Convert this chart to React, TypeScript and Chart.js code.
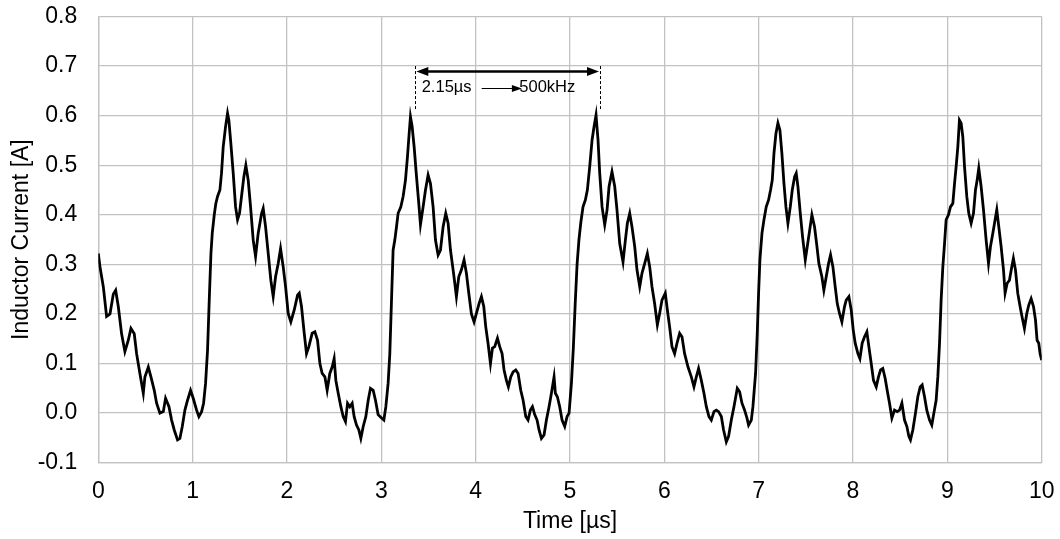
import React, { useEffect, useRef } from "react";
import { Chart, registerables } from "chart.js";

Chart.register(...registerables);

// ---- data ----
const timeUs = [
  0.0, 0.018, 0.053, 0.088, 0.124, 0.159, 0.184, 0.212, 0.247, 0.282, 0.318, 0.346, 0.381, 0.406, 0.441, 0.477,
  0.494, 0.53, 0.558, 0.593, 0.618, 0.653, 0.689, 0.713, 0.749, 0.777, 0.805, 0.84, 0.865, 0.89, 0.918, 0.946,
  0.978, 1.006, 1.042, 1.066, 1.095, 1.116, 1.137, 1.158, 1.176, 1.194, 1.208, 1.229, 1.246, 1.264, 1.289, 1.306,
  1.324, 1.349, 1.37, 1.384, 1.405, 1.43, 1.455, 1.476, 1.497, 1.518, 1.543, 1.564, 1.589, 1.614, 1.642, 1.667,
  1.695, 1.731, 1.748, 1.773, 1.801, 1.829, 1.854, 1.879, 1.907, 1.932, 1.96, 1.985, 2.013, 2.041, 2.077, 2.112,
  2.13, 2.154, 2.183, 2.207, 2.232, 2.267, 2.296, 2.324, 2.349, 2.373, 2.402, 2.426, 2.454, 2.479, 2.5, 2.518,
  2.543, 2.571, 2.596, 2.62, 2.642, 2.666, 2.691, 2.712, 2.737, 2.762, 2.783, 2.808, 2.836, 2.861, 2.885, 2.914,
  2.938, 2.966, 3.002, 3.027, 3.048, 3.072, 3.09, 3.108, 3.125, 3.143, 3.161, 3.178, 3.207, 3.231, 3.256, 3.277,
  3.295, 3.309, 3.327, 3.348, 3.373, 3.397, 3.415, 3.443, 3.468, 3.496, 3.521, 3.549, 3.574, 3.602, 3.627, 3.655,
  3.683, 3.708, 3.733, 3.761, 3.779, 3.796, 3.821, 3.849, 3.877, 3.902, 3.927, 3.955, 3.983, 4.008, 4.036, 4.061,
  4.086, 4.107, 4.132, 4.157, 4.178, 4.202, 4.231, 4.255, 4.28, 4.301, 4.326, 4.347, 4.372, 4.397, 4.425, 4.45,
  4.478, 4.503, 4.531, 4.555, 4.58, 4.602, 4.626, 4.651, 4.672, 4.697, 4.725, 4.75, 4.778, 4.803, 4.831, 4.845,
  4.866, 4.891, 4.916, 4.944, 4.969, 4.99, 5.015, 5.035, 5.055, 5.075, 5.095, 5.115, 5.138, 5.163, 5.184, 5.209,
  5.234, 5.255, 5.276, 5.297, 5.315, 5.34, 5.368, 5.393, 5.414, 5.445, 5.474, 5.498, 5.527, 5.562, 5.587, 5.608,
  5.633, 5.657, 5.686, 5.71, 5.739, 5.763, 5.792, 5.82, 5.845, 5.869, 5.897, 5.926, 5.95, 5.975, 6.01, 6.032,
  6.056, 6.081, 6.109, 6.134, 6.162, 6.187, 6.215, 6.251, 6.286, 6.314, 6.339, 6.363, 6.392, 6.42, 6.445, 6.473,
  6.498, 6.526, 6.551, 6.575, 6.604, 6.628, 6.657, 6.681, 6.71, 6.738, 6.773, 6.798, 6.823, 6.851, 6.876, 6.893,
  6.922, 6.939, 6.95, 6.967, 6.985, 6.999, 7.013, 7.035, 7.056, 7.08, 7.105, 7.126, 7.144, 7.162, 7.183, 7.204,
  7.225, 7.246, 7.268, 7.289, 7.31, 7.335, 7.356, 7.381, 7.398, 7.416, 7.441, 7.465, 7.494, 7.515, 7.536, 7.564,
  7.592, 7.614, 7.638, 7.67, 7.691, 7.716, 7.741, 7.762, 7.787, 7.811, 7.833, 7.857, 7.882, 7.91, 7.928, 7.956,
  7.981, 8.002, 8.023, 8.052, 8.073, 8.097, 8.122, 8.147, 8.168, 8.193, 8.217, 8.246, 8.27, 8.292, 8.316, 8.341,
  8.362, 8.387, 8.412, 8.44, 8.468, 8.493, 8.518, 8.546, 8.571, 8.592, 8.609, 8.634, 8.662, 8.687, 8.712, 8.733,
  8.758, 8.782, 8.811, 8.835, 8.857, 8.881, 8.899, 8.917, 8.934, 8.952, 8.97, 8.987, 9.012, 9.033, 9.058, 9.076,
  9.093, 9.111, 9.128, 9.146, 9.164, 9.182, 9.206, 9.227, 9.252, 9.277, 9.298, 9.316, 9.333, 9.358, 9.383, 9.411,
  9.436, 9.457, 9.482, 9.506, 9.524, 9.545, 9.57, 9.595, 9.612, 9.634, 9.658, 9.683, 9.7, 9.722, 9.746, 9.771,
  9.792, 9.817, 9.842, 9.863, 9.888, 9.913, 9.934, 9.951, 9.969, 9.983, 10.0,
];

const currentA = [
  0.322, 0.295, 0.255, 0.195, 0.2, 0.24, 0.248, 0.215, 0.16, 0.124, 0.147, 0.171, 0.16, 0.12, 0.08, 0.04,
  0.073, 0.093, 0.073, 0.046, 0.02, 0.0, 0.003, 0.03, 0.013, -0.014, -0.034, -0.054, -0.051, -0.027, 0.006, 0.026,
  0.046, 0.03, 0.006, -0.007, 0.003, 0.02, 0.06, 0.127, 0.228, 0.322, 0.363, 0.4, 0.423, 0.437, 0.45, 0.484,
  0.537, 0.578, 0.605, 0.591, 0.544, 0.484, 0.416, 0.39, 0.403, 0.437, 0.477, 0.5, 0.47, 0.416, 0.349, 0.316,
  0.363, 0.403, 0.413, 0.376, 0.322, 0.268, 0.235, 0.275, 0.302, 0.332, 0.295, 0.255, 0.201, 0.184, 0.208, 0.238,
  0.242, 0.215, 0.161, 0.12, 0.134, 0.161, 0.164, 0.147, 0.1, 0.08, 0.073, 0.046, 0.08, 0.093, 0.11, 0.066,
  0.04, 0.013, -0.007, -0.017, 0.02, 0.013, 0.02, -0.007, -0.024, -0.034, -0.051, -0.027, -0.007, 0.026, 0.05, 0.046,
  0.026, -0.003, -0.01, -0.014, 0.013, 0.06, 0.12, 0.228, 0.329, 0.349, 0.376, 0.403, 0.416, 0.437, 0.47, 0.517,
  0.564, 0.598, 0.578, 0.537, 0.477, 0.423, 0.38, 0.416, 0.45, 0.48, 0.463, 0.416, 0.349, 0.319, 0.329, 0.376,
  0.403, 0.383, 0.329, 0.289, 0.262, 0.235, 0.275, 0.289, 0.309, 0.282, 0.242, 0.2, 0.184, 0.201, 0.221, 0.235,
  0.215, 0.174, 0.14, 0.1, 0.131, 0.134, 0.151, 0.134, 0.12, 0.087, 0.066, 0.053, 0.073, 0.083, 0.087, 0.08,
  0.046, 0.026, -0.007, -0.014, 0.006, 0.013, -0.003, -0.014, -0.034, -0.051, -0.044, -0.014, 0.013, 0.04, 0.073, 0.04,
  0.033, 0.013, -0.014, -0.027, -0.007, 0.0, 0.06, 0.13, 0.22, 0.3, 0.35, 0.385, 0.416, 0.43, 0.45, 0.497,
  0.551, 0.578, 0.601, 0.551, 0.484, 0.416, 0.38, 0.41, 0.457, 0.487, 0.457, 0.41, 0.342, 0.305, 0.349, 0.383,
  0.403, 0.376, 0.336, 0.289, 0.255, 0.282, 0.302, 0.322, 0.295, 0.255, 0.221, 0.178, 0.201, 0.228, 0.242, 0.208,
  0.174, 0.134, 0.12, 0.141, 0.161, 0.154, 0.12, 0.093, 0.073, 0.053, 0.073, 0.09, 0.066, 0.04, 0.013, -0.007,
  -0.014, 0.003, 0.006, 0.003, -0.007, -0.034, -0.058, -0.047, -0.014, 0.013, 0.05, 0.043, 0.02, 0.006, -0.01, -0.024,
  -0.014, 0.013, 0.04, 0.08, 0.161, 0.242, 0.309, 0.363, 0.39, 0.416, 0.43, 0.45, 0.47, 0.524, 0.564, 0.585,
  0.571, 0.524, 0.463, 0.416, 0.383, 0.416, 0.45, 0.477, 0.484, 0.457, 0.403, 0.356, 0.309, 0.336, 0.363, 0.4,
  0.376, 0.342, 0.302, 0.275, 0.248, 0.275, 0.302, 0.319, 0.295, 0.255, 0.221, 0.201, 0.184, 0.215, 0.228, 0.235,
  0.208, 0.168, 0.141, 0.12, 0.11, 0.141, 0.154, 0.164, 0.134, 0.1, 0.066, 0.053, 0.073, 0.087, 0.09, 0.07,
  0.046, 0.02, -0.01, 0.006, 0.003, 0.006, 0.02, -0.014, -0.027, -0.047, -0.054, -0.034, 0.0, 0.033, 0.053, 0.057,
  0.033, 0.006, -0.014, -0.024, 0.0, 0.026, 0.073, 0.141, 0.228, 0.295, 0.342, 0.39, 0.4, 0.416, 0.423, 0.463,
  0.497, 0.537, 0.591, 0.585, 0.557, 0.497, 0.437, 0.403, 0.383, 0.403, 0.45, 0.47, 0.494, 0.457, 0.41, 0.349,
  0.302, 0.336, 0.363, 0.39, 0.41, 0.376, 0.336, 0.289, 0.242, 0.262, 0.268, 0.295, 0.312, 0.289, 0.242, 0.215,
  0.194, 0.171, 0.201, 0.218, 0.231, 0.215, 0.188, 0.147, 0.141, 0.12, 0.107,
];

const xTickValues = [0, 1, 2, 3, 4, 5, 6, 7, 8, 9, 10];
const yTickValues = [-0.1, 0.0, 0.1, 0.2, 0.3, 0.4, 0.5, 0.6, 0.7, 0.8];

const xTitle = "Time [µs]";
const yTitle = "Inductor Current [A]";

// period annotation (data units)
const periodMarks = [3.355, 5.318];
const periodDashFrom = 0.612;
const periodDashTo = 0.7;
const periodArrowY = 0.689;
const periodLabelY = 0.656;
const periodLabel = "2.15µs";
const freqLabel = "500kHz";
const periodLabelX = 3.428;
const freqArrowFrom = 4.064;
const freqArrowTo = 4.49;
const freqLabelX = 4.463;

const FONT = "'Liberation Sans', Arial, sans-serif";
const GRID = "#c2c2c2";
const FS = 23;

const annotationPlugin = {
  id: "periodAnnotation",
  afterDatasetsDraw(chart: any) {
    const { ctx, scales } = chart;
    const xs = scales.x;
    const ys = scales.y;
    ctx.save();
    ctx.strokeStyle = "#000";
    ctx.fillStyle = "#000";

    // dashed verticals
    ctx.lineWidth = 1;
    ctx.setLineDash([3, 2]);
    for (const m of periodMarks) {
      const px = Math.round(xs.getPixelForValue(m)) + 0.5;
      ctx.beginPath();
      ctx.moveTo(px, ys.getPixelForValue(periodDashTo));
      ctx.lineTo(px, ys.getPixelForValue(periodDashFrom));
      ctx.stroke();
    }
    ctx.setLineDash([]);

    // double arrow
    const ay = ys.getPixelForValue(periodArrowY);
    const x1 = xs.getPixelForValue(periodMarks[0]) + 1.5;
    const x2 = xs.getPixelForValue(periodMarks[1]) - 1;
    const hl = 12;
    const hw = 4.5;
    ctx.lineWidth = 2.5;
    ctx.beginPath();
    ctx.moveTo(x1 + hl - 2, ay);
    ctx.lineTo(x2 - hl + 2, ay);
    ctx.stroke();
    ctx.beginPath();
    ctx.moveTo(x1, ay);
    ctx.lineTo(x1 + hl, ay - hw);
    ctx.lineTo(x1 + hl, ay + hw);
    ctx.closePath();
    ctx.fill();
    ctx.beginPath();
    ctx.moveTo(x2, ay);
    ctx.lineTo(x2 - hl, ay - hw);
    ctx.lineTo(x2 - hl, ay + hw);
    ctx.closePath();
    ctx.fill();

    // labels
    const ty = ys.getPixelForValue(periodLabelY);
    ctx.font = `16.5px ${FONT}`;
    ctx.textBaseline = "middle";
    ctx.textAlign = "left";
    ctx.fillText(periodLabel, xs.getPixelForValue(periodLabelX), ty);

    // small arrow
    const sx1 = xs.getPixelForValue(freqArrowFrom);
    const sx2 = xs.getPixelForValue(freqArrowTo);
    const sy = Math.round(ty) + 0.5;
    ctx.lineWidth = 1;
    ctx.beginPath();
    ctx.moveTo(sx1, sy);
    ctx.lineTo(sx2 - 6, sy);
    ctx.stroke();
    ctx.beginPath();
    ctx.moveTo(sx2, sy);
    ctx.lineTo(sx2 - 10, sy - 3.5);
    ctx.lineTo(sx2 - 10, sy + 3.5);
    ctx.closePath();
    ctx.fill();

    ctx.fillText(freqLabel, xs.getPixelForValue(freqLabelX), ty);
    ctx.restore();
  },
};

export default function App() {
  const canvasRef = useRef<HTMLCanvasElement | null>(null);

  useEffect(() => {
    const canvas = canvasRef.current;
    if (!canvas) return;
    const points = timeUs.map((t, i) => ({ x: t, y: currentA[i] }));
    const chart = new Chart(canvas, {
      type: "line",
      data: {
        datasets: [
          {
            label: "Inductor Current",
            data: points,
            borderColor: "#000",
            borderWidth: 2.8,
            pointRadius: 0,
            tension: 0,
            fill: false,
          },
        ],
      },
      options: {
        animation: false,
        responsive: true,
        maintainAspectRatio: false,
        parsing: false as any,
        layout: { padding: { top: 16.5, right: 18.3, left: 0, bottom: 0 } },
        plugins: {
          legend: { display: false },
          tooltip: { enabled: false },
        },
        scales: {
          x: {
            type: "linear",
            min: 0,
            max: 10,
            afterFit: (s: any) => {
              s.height = 76.3;
              s.paddingLeft = 0;
              s.paddingRight = 0;
            },
            afterBuildTicks: (s: any) => {
              s.ticks = xTickValues.map((v) => ({ value: v }));
            },
            ticks: {
              padding: 15,
              color: "#000",
              font: { family: FONT, size: FS },
              maxRotation: 0,
              callback: (v: any) => String(v),
            },
            grid: { color: GRID, lineWidth: 1.3, drawTicks: false },
            border: { color: GRID, width: 1.3 },
            title: {
              display: true,
              text: xTitle,
              color: "#000",
              font: { family: FONT, size: FS },
              padding: { top: 0, bottom: 4 },
            },
          },
          y: {
            type: "linear",
            min: -0.1,
            max: 0.8,
            afterFit: (s: any) => {
              s.width = 98.3;
              s.paddingTop = 0;
              s.paddingBottom = 0;
            },
            afterBuildTicks: (s: any) => {
              s.ticks = yTickValues.map((v) => ({ value: v }));
            },
            ticks: {
              padding: 21,
              color: "#000",
              font: { family: FONT, size: FS },
              callback: (v: any) => {
                const n = Number(v);
                return Math.abs(n) < 1e-9 ? "0.0" : n.toFixed(1);
              },
            },
            grid: { color: GRID, lineWidth: 1.3, drawTicks: false },
            border: { color: GRID, width: 1.3 },
            title: {
              display: true,
              text: yTitle,
              color: "#000",
              font: { family: FONT, size: FS },
              padding: { top: 8, bottom: 0 },
            },
          },
        },
      },
      plugins: [annotationPlugin],
    });
    return () => chart.destroy();
  }, []);

  return (
    <div style={{ position: "fixed", left: 0, top: 0, width: 1060, height: 539, background: "#fff" }}>
      <canvas ref={canvasRef} />
    </div>
  );
}
